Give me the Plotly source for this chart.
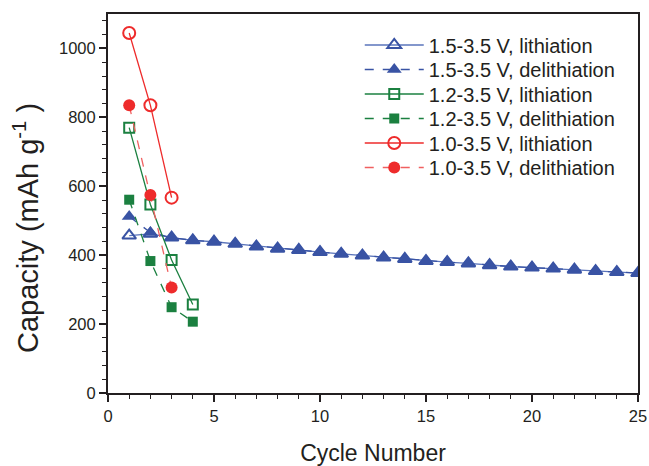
import plotly.graph_objects as go

# Data
cycles_b = list(range(1, 26))
blue_lith = [457, 462, 451, 443, 439, 433, 425, 419, 415, 409, 404, 399, 393, 389, 383, 380, 376, 371, 367, 364, 361, 358, 354, 351, 348]
blue_delith = [512, 466, 451, 443, 439, 433, 425, 419, 415, 409, 404, 399, 393, 389, 383, 380, 376, 371, 367, 364, 361, 358, 354, 351, 348]

cycles_g = [1, 2, 3, 4]
green_lith = [770, 547, 386, 257]
green_delith = [561, 383, 249, 207]

cycles_r = [1, 2, 3]
red_lith = [1045, 835, 567]
red_delith = [835, 575, 306]

labels = ["1.5-3.5 V, lithiation", "1.5-3.5 V, delithiation",
          "1.2-3.5 V, lithiation", "1.2-3.5 V, delithiation",
          "1.0-3.5 V, lithiation", "1.0-3.5 V, delithiation"]
y_title = "Capacity (mAh g<sup>-1</sup> )"
x_title = "Cycle Number"

BLUE = "#3953a4"
GREEN = "#1b8040"
RED = "#ee2b2b"
RED_L = "#f06060"
TXT = "#231f20"

traces = [
    dict(x=cycles_b, y=blue_lith, line=dict(color="#5a74bb", width=1.3),
         marker=dict(symbol="triangle-up-open", size=12, color=BLUE, line=dict(width=2, color=BLUE))),
    dict(x=cycles_b, y=blue_delith, line=dict(color=BLUE, width=1.3, dash="dash"),
         marker=dict(symbol="triangle-up", size=13, color=BLUE)),
    dict(x=cycles_g, y=green_lith, line=dict(color=GREEN, width=1.3),
         marker=dict(symbol="square-open", size=10, color=GREEN, line=dict(width=2, color=GREEN))),
    dict(x=cycles_g, y=green_delith, line=dict(color=GREEN, width=1.3, dash="dash"),
         marker=dict(symbol="square", size=10, color=GREEN)),
    dict(x=cycles_r, y=red_lith, line=dict(color=RED, width=1.3),
         marker=dict(symbol="circle-open", size=12, color=RED, line=dict(width=2, color=RED))),
    dict(x=cycles_r, y=red_delith, line=dict(color=RED_L, width=1.3, dash="dash"),
         marker=dict(symbol="circle", size=12, color=RED)),
]

fig = go.Figure()
legend_layout = {}
row_px = [45, 69.5, 94, 118.5, 143, 167.5]   # legend row centres (px from top)
plot_top, plot_bot, plot_left = 14, 393, 108
plot_w = 649 - 11 - plot_left
plot_h = plot_bot - plot_top
for i, (t, lab) in enumerate(zip(traces, labels)):
    lname = "legend" if i == 0 else f"legend{i+1}"
    fig.add_trace(go.Scatter(name=lab, mode="lines+markers", legend=lname, **t))
    legend_layout[lname] = dict(
        x=0.475, y=(plot_bot - row_px[i]) / plot_h,
        xanchor="left", yanchor="middle",
        font=dict(size=20, color=TXT), bgcolor="rgba(0,0,0,0)",
        itemwidth=59, tracegroupgap=0)

fig.update_layout(
    width=649, height=466,
    margin=dict(l=plot_left, r=11, t=plot_top, b=466 - plot_bot),
    paper_bgcolor="white", plot_bgcolor="white",
    font=dict(family="Liberation Sans, Arial, sans-serif", color=TXT, size=16.5),
    showlegend=True,
    **legend_layout,
)
fig.add_annotation(text=y_title, xref="paper", yref="paper",
                   x=(26 - plot_left) / plot_w, y=(plot_bot - 228) / plot_h,
                   xanchor="center", yanchor="middle", textangle=-90, showarrow=False,
                   font=dict(size=29, color=TXT))
fig.update_xaxes(range=[0, 25], tickvals=[0, 5, 10, 15, 20, 25], ticks="outside", ticklen=7, tickwidth=1.5,
                 tickcolor=TXT, showline=True, linecolor=TXT, linewidth=2, mirror=True, showgrid=False,
                 zeroline=False, tickfont=dict(size=16.5), automargin=False,
                 minor=dict(dtick=1, ticks="outside", ticklen=4, tickwidth=1.2, tickcolor=TXT),
                 title=dict(text=x_title, font=dict(size=23), standoff=26))
fig.update_yaxes(range=[0, 1100], tickvals=[0, 200, 400, 600, 800, 1000], ticks="outside", ticklen=7, tickwidth=1.5,
                 tickcolor=TXT, showline=True, linecolor=TXT, linewidth=2, mirror=True, showgrid=False,
                 zeroline=False, tickfont=dict(size=16.5), automargin=False,
                 minor=dict(dtick=40, ticks="outside", ticklen=4, tickwidth=1.2, tickcolor=TXT))

fig.write_html("out.html")
